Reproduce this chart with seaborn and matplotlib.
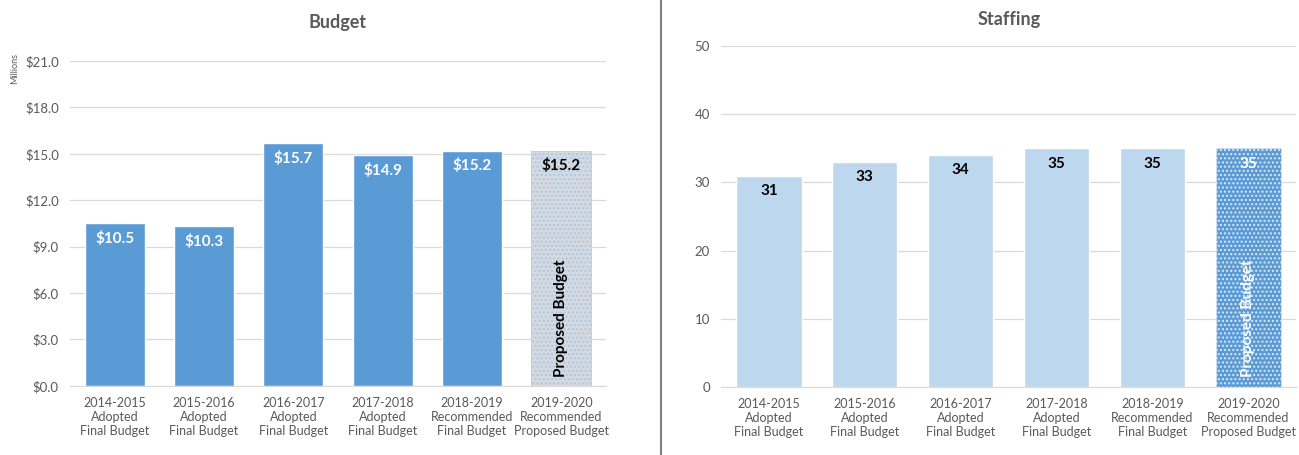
import matplotlib
matplotlib.use("Agg")
import matplotlib.pyplot as plt
import seaborn as sns
from matplotlib.lines import Line2D

# chart data
categories = [
    "2014-2015\nAdopted\nFinal Budget",
    "2015-2016\nAdopted\nFinal Budget",
    "2016-2017\nAdopted\nFinal Budget",
    "2017-2018\nAdopted\nFinal Budget",
    "2018-2019\nRecommended\nFinal Budget",
    "2019-2020\nRecommended\nProposed Budget",
]
budget = [10.5, 10.3, 15.7, 14.9, 15.2, 15.2]
budget_labels = ["$10.5", "$10.3", "$15.7", "$14.9", "$15.2", "$15.2"]
budget_ticks = [0, 3, 6, 9, 12, 15, 18, 21]
staffing = [31, 33, 34, 35, 35, 35]
staffing_ticks = [0, 10, 20, 30, 40, 50]

sns.set_style("white")
plt.rcParams["font.family"] = ["Lato", "DejaVu Sans"]
plt.rcParams["hatch.linewidth"] = 1.0

gray = "#595959"
blue = "#5B9BD5"
light = "#BDD7EE"

fig = plt.figure(figsize=(12.99, 4.55), dpi=100)
ax1 = fig.add_axes([0.0539, 0.152, 0.4126, 0.714])
ax2 = fig.add_axes([0.555, 0.149, 0.443, 0.750])


def style_axis(ax, ticks, fmt):
    ax.set_yticks(ticks)
    ax.set_yticklabels([fmt(t) for t in ticks], color=gray, fontsize=9.5)
    ax.set_ylim(ticks[0], ticks[-1])
    ax.grid(axis="y", color="#d9d9d9", linewidth=0.9)
    ax.set_axisbelow(True)
    for s in ["top", "right", "left"]:
        ax.spines[s].set_visible(False)
    ax.spines["bottom"].set_color("#d9d9d9")
    ax.tick_params(axis="both", length=0, pad=8)
    ax.tick_params(axis="x", labelsize=9, labelcolor=gray)
    ax.set_xlabel("")
    ax.set_ylabel("")


# Budget panel
sns.barplot(x=categories, y=budget, ax=ax1, color=blue, width=0.67, saturation=1)
style_axis(ax1, budget_ticks, lambda t: f"${t:.1f}")
p = ax1.patches[-1]
p.set_facecolor("#d6d9de")
p.set_edgecolor("#a9c8e8")
p.set_hatch("....")
p.set_linewidth(0.5)
for i, (v, lab) in enumerate(zip(budget, budget_labels)):
    c = "black" if i == len(budget) - 1 else "white"
    ax1.annotate(lab, (i, v), xytext=(0, -11), textcoords="offset points",
                 ha="center", va="center", color=c, fontsize=11, fontweight="bold")
ax1.text(len(budget) - 1, 4.4, "Proposed Budget", rotation=90, ha="center", va="center",
         fontsize=11, fontweight="bold", color="black")
ax1.set_title("Budget", fontsize=13, fontweight="bold", color=gray, pad=24)
fig.text(0.011, 0.85, "Millions", rotation=90, ha="center", va="center", fontsize=6.5, color=gray)

# Staffing panel
sns.barplot(x=categories, y=staffing, ax=ax2, color=light, width=0.68, saturation=1)
style_axis(ax2, staffing_ticks, lambda t: f"{t}")
p = ax2.patches[-1]
p.set_facecolor(blue)
p.set_edgecolor("#dbe8f6")
p.set_hatch("....")
p.set_linewidth(0.5)
for i, v in enumerate(staffing):
    c = "white" if i == len(staffing) - 1 else "black"
    ax2.annotate(f"{v}", (i, v), xytext=(0, -11), textcoords="offset points",
                 ha="center", va="center", color=c, fontsize=11, fontweight="bold")
ax2.text(len(staffing) - 1, 10.1, "Proposed Budget", rotation=90, ha="center", va="center",
         fontsize=11, fontweight="bold", color="white")
ax2.set_title("Staffing", fontsize=13, fontweight="bold", color=gray, pad=15)

# divider between panels
fig.add_artist(Line2D([0.509, 0.509], [0, 1], transform=fig.transFigure, color="#7f7f7f", linewidth=1.5))

fig.savefig("out.png", dpi=100)
